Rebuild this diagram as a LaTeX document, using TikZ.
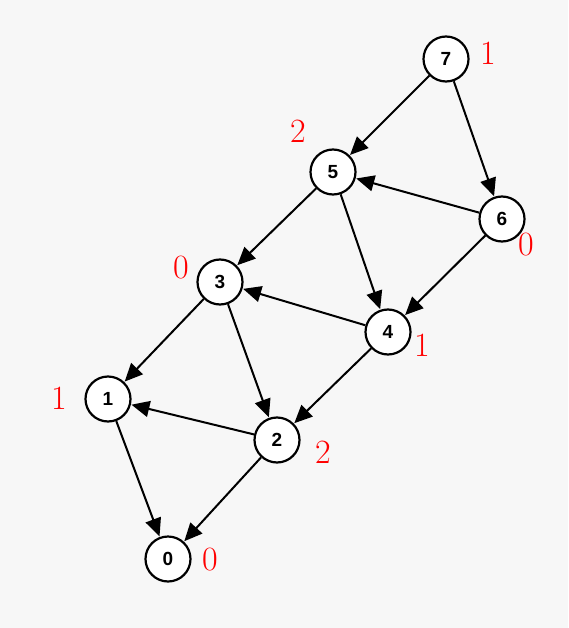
\documentclass[tikz,border=0pt]{standalone}
\usepackage{fontspec}
\newfontfamily\nodefont{Liberation Sans}
\usetikzlibrary{arrows.meta}
\begin{document}
\begin{tikzpicture}[x=1pt,y=-1pt,
  vert/.style={circle,draw=black,line width=2.2pt,fill=white,minimum size=45pt,inner sep=0pt,font=\nodefont\bfseries\fontsize{19}{19}\selectfont},
  lab/.style={text=red,font=\fontsize{34}{34}\selectfont,inner sep=0pt},
  edge/.style={line width=2pt,-{Triangle[length=18pt,width=16pt]},shorten >=0.5pt}]
\fill[black!3] (0,0) rectangle (568,628);
\useasboundingbox (0,0) rectangle (568,628);
\node[vert] (n7) at (446,59) {7};
\node[vert] (n5) at (333,172) {5};
\node[vert] (n6) at (502,219) {6};
\node[vert] (n3) at (220,282) {3};
\node[vert] (n4) at (388,332) {4};
\node[vert] (n1) at (108,399) {1};
\node[vert] (n2) at (277,440) {2};
\node[vert] (n0) at (168,559) {0};
\node[lab] (l7) at (488,53) {1};
\node[lab] (l5) at (298,131) {2};
\node[lab] (l6) at (526,245) {0};
\node[lab] (l3) at (181,268) {0};
\node[lab] (l4) at (422,345) {1};
\node[lab] (l1) at (59,398) {1};
\node[lab] (l2) at (323,452) {2};
\node[lab] (l0) at (210,560) {0};
\draw[edge] (n7) -- (n5);
\draw[edge] (n7) -- (n6);
\draw[edge] (n6) -- (n5);
\draw[edge] (n5) -- (n3);
\draw[edge] (n5) -- (n4);
\draw[edge] (n6) -- (n4);
\draw[edge] (n4) -- (n3);
\draw[edge] (n3) -- (n1);
\draw[edge] (n3) -- (n2);
\draw[edge] (n4) -- (n2);
\draw[edge] (n2) -- (n1);
\draw[edge] (n1) -- (n0);
\draw[edge] (n2) -- (n0);
\end{tikzpicture}
\end{document}
